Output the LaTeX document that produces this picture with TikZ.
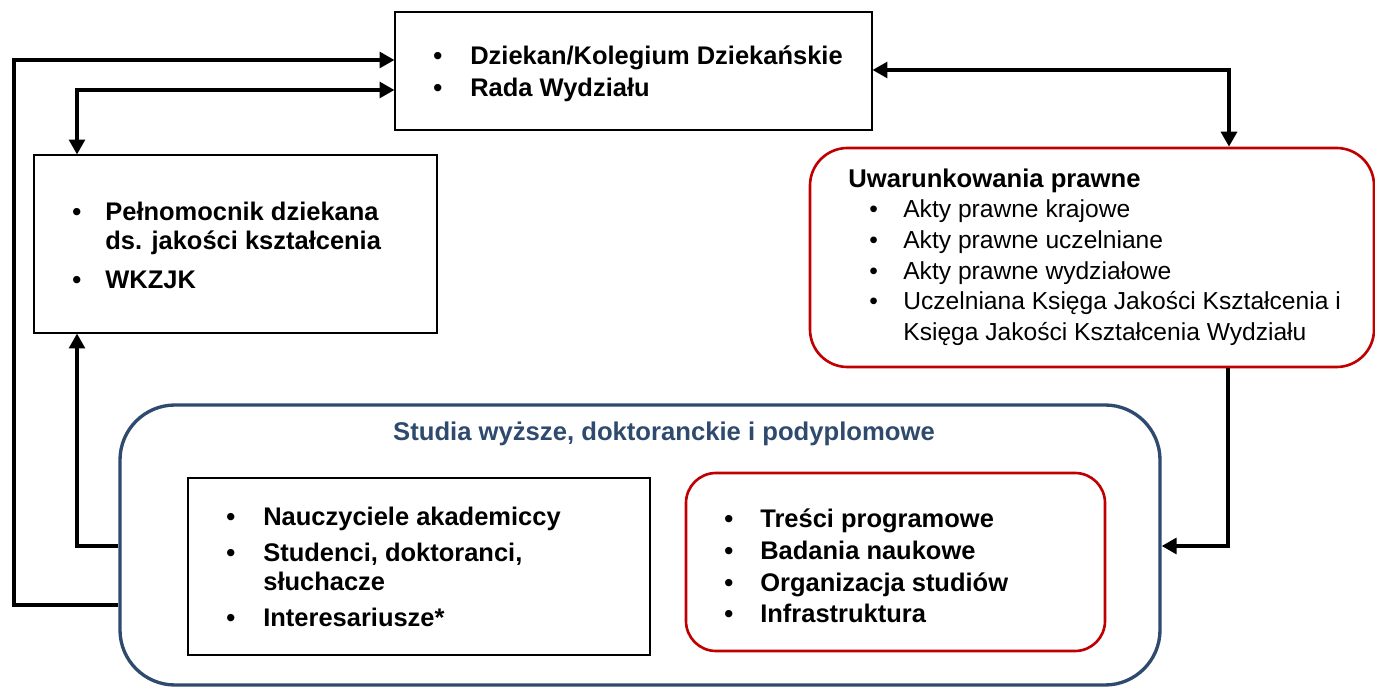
\documentclass[tikz,border=0pt]{standalone}
\usepackage{fontspec}
\setmainfont{Liberation Sans}
\usetikzlibrary{arrows.meta, positioning, fit}
\definecolor{granat}{HTML}{2E4A6E}
\definecolor{czerwony}{HTML}{C00000}
\tikzset{
  ramka/.style={draw, line width=0.6pt, inner sep=0pt},
  ramkaczerw/.style={draw=czerwony, line width=1.5pt, rounded corners=0.75cm, inner sep=0pt},
  ramkanieb/.style={draw=granat, line width=1.9pt, rounded corners=1.1cm, inner sep=0pt},
  strz/.style={line width=2pt, -{Triangle[length=8.5pt,width=9pt]}},
  strzdwa/.style={line width=2pt, {Triangle[length=8.5pt,width=9pt]}-{Triangle[length=8.5pt,width=9pt]}},
  lista/.style={anchor=base west, inner sep=0pt},
}
\begin{document}
\begin{tikzpicture}[x=0.02cm, y=-0.02cm]
\useasboundingbox (0,0) rectangle (1375,688);
% ramki
\node[ramka, fit={(395,12) (872,130)}] (dziekan) {};
\node[ramka, fit={(34,155) (437,333)}] (pelnom) {};
\node[ramkaczerw, fit={(810,148) (1374,367)}] (prawo) {};
\node[ramkanieb, fit={(120,405) (1160,685)}] (studia) {};
\node[ramka, fit={(188,478) (650,655)}] (ludzie) {};
\node[ramkaczerw, rounded corners=0.6cm, fit={(686,473) (1105,651)}] (zakres) {};
% teksty
\node[lista, font=\bfseries\fontsize{14.5}{18.2}\selectfont] (tdziekan) at (433,65)
  {\begin{tabular}[t]{@{}p{0.74cm}@{}l@{}}
   \textbullet & Dziekan/Kolegium Dziekańskie\\
   \textbullet & Rada Wydziału
   \end{tabular}};
\node[lista, font=\bfseries\fontsize{14.5}{16.5}\selectfont] (tpelnom) at (72,221)
  {\begin{tabular}[t]{@{}p{0.66cm}@{}l@{}}
   \textbullet & Pełnomocnik dziekana\\
               & ds. jakości kształcenia\\[5.7pt]
   \textbullet & WKZJK
   \end{tabular}};
\node[lista, font=\bfseries\fontsize{14.6}{17}\selectfont] (tprawo) at (848,188) {Uwarunkowania prawne};
\node[lista, font=\fontsize{14}{17.4}\selectfont] (lprawo) at (869,218)
  {\begin{tabular}[t]{@{}p{0.68cm}@{}l@{}}
   \textbullet & Akty prawne krajowe\\
   \textbullet & Akty prawne uczelniane\\
   \textbullet & Akty prawne wydziałowe\\
   \textbullet & Uczelniana Księga Jakości Kształcenia i\\
               & Księga Jakości Kształcenia Wydziału
   \end{tabular}};
\node[font=\bfseries\fontsize{14.6}{17}\selectfont, text=granat, anchor=base, inner sep=0pt] (tstudia) at (664,441)
  {Studia wyższe, doktoranckie i podyplomowe};
\node[lista, font=\bfseries\fontsize{14.5}{16}\selectfont] (lludzie) at (226,525)
  {\begin{tabular}[t]{@{}p{0.74cm}@{}l@{}}
   \textbullet & Nauczyciele akademiccy\\[5pt]
   \textbullet & Studenci, doktoranci,\\
               & słuchacze\\[4.5pt]
   \textbullet & Interesariusze*
   \end{tabular}};
\node[lista, font=\bfseries\fontsize{14.5}{18}\selectfont] (lzakres) at (724,528)
  {\begin{tabular}[t]{@{}p{0.72cm}@{}l@{}}
   \textbullet & Treści programowe\\
   \textbullet & Badania naukowe\\
   \textbullet & Organizacja studiów\\
   \textbullet & Infrastruktura
   \end{tabular}};
% strzalki
\coordinate (A1) at (14,605);
\coordinate (A2) at (14,60);
\coordinate (B1) at (77,546);
\coordinate (C1) at (77,90);
\coordinate (D1) at (1229,70);
\coordinate (E1) at (1228,546);
\draw[strz] (studia.west |- A1) -- (A1) -- (A2) -- (dziekan.west |- A2);
\draw[strz] (studia.west |- B1) -- (B1) -- (pelnom.south -| B1);
\draw[strzdwa] (dziekan.west |- C1) -- (C1) -- (pelnom.north -| C1);
\draw[strzdwa] (dziekan.east |- D1) -- (D1) -- (prawo.north -| D1);
\draw[strz] (prawo.south -| E1) -- (E1) -- (studia.east |- E1);
\end{tikzpicture}
\end{document}
